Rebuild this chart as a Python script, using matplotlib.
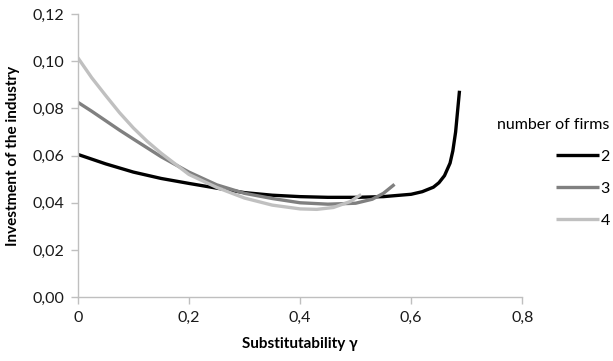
import numpy as np
import matplotlib
matplotlib.use("Agg")
import matplotlib.pyplot as plt
from matplotlib.ticker import FuncFormatter

# values
gamma_2 = [0, 0.05, 0.1, 0.15, 0.2, 0.25, 0.3, 0.35, 0.4, 0.45, 0.5, 0.55,
           0.6, 0.62, 0.64, 0.65, 0.66, 0.67, 0.675, 0.68, 0.684, 0.687]
invest_2 = [0.0605, 0.0565, 0.0530, 0.0503, 0.0482, 0.0462, 0.0443, 0.0432,
            0.0426, 0.0423, 0.0423, 0.0426, 0.0436, 0.0447, 0.0466, 0.0485,
            0.0515, 0.0568, 0.0620, 0.0700, 0.0800, 0.0875]

gamma_3 = [0, 0.025, 0.05, 0.075, 0.1, 0.15, 0.2, 0.25, 0.3, 0.35, 0.4, 0.45,
           0.5, 0.53, 0.55, 0.57]
invest_3 = [0.0826, 0.0788, 0.0748, 0.0708, 0.0670, 0.0595, 0.0530, 0.0476,
            0.0440, 0.0418, 0.0400, 0.0394, 0.0398, 0.0415, 0.0440, 0.0478]

gamma_4 = [0, 0.025, 0.05, 0.075, 0.1, 0.125, 0.15, 0.2, 0.25, 0.3, 0.35,
           0.4, 0.43, 0.46, 0.49, 0.51]
invest_4 = [0.1015, 0.0930, 0.0855, 0.0782, 0.0717, 0.0660, 0.0610, 0.0520,
            0.0465, 0.0420, 0.0390, 0.0374, 0.0372, 0.0380, 0.0405, 0.0435]

series = [("2", gamma_2, invest_2, "#000000"),
          ("3", gamma_3, invest_3, "#808080"),
          ("4", gamma_4, invest_4, "#c0c0c0")]

plt.rcParams['font.family'] = ['Lato', 'DejaVu Sans']

fig = plt.figure(figsize=(6.13, 3.61), dpi=100)
ax = fig.add_axes([0.127, 0.177, 0.725, 0.784])

for name, x, y, col in series:
    ax.plot(x, y, color=col, lw=2.4, label=name, solid_capstyle='butt')

ax.set_xlim(0, 0.8)
ax.set_ylim(0, 0.12)
ax.set_xticks([0, 0.2, 0.4, 0.6, 0.8])
ax.set_yticks(np.arange(0, 0.121, 0.02))
ax.xaxis.set_major_formatter(FuncFormatter(lambda v, p: "0" if v == 0 else f"{v:.1f}".replace(".", ",")))
ax.yaxis.set_major_formatter(FuncFormatter(lambda v, p: f"{v:.2f}".replace(".", ",")))

for s in ["top", "right"]:
    ax.spines[s].set_visible(False)
for s in ["left", "bottom"]:
    ax.spines[s].set_color("#bfbfbf")
    ax.spines[s].set_linewidth(1.0)
ax.tick_params(direction="out", length=5, width=1, color="#bfbfbf",
               labelsize=11.5, labelcolor="#1a1a1a", pad=5)

ax.set_xlabel("Substitutability γ", fontsize=11, fontweight="bold", labelpad=9)
ax.set_ylabel("Investment of the industry", fontsize=11, fontweight="bold", labelpad=9)

leg = fig.legend(title="number of firms", loc="upper right",
                 bbox_to_anchor=(1.005, 0.69),
                 frameon=False, fontsize=11.5, title_fontsize=11.5, alignment="right",
                 handlelength=2.7, handletextpad=0.1, labelspacing=1.1,
                 borderaxespad=0.0)

fig.savefig("out.png", dpi=100)
